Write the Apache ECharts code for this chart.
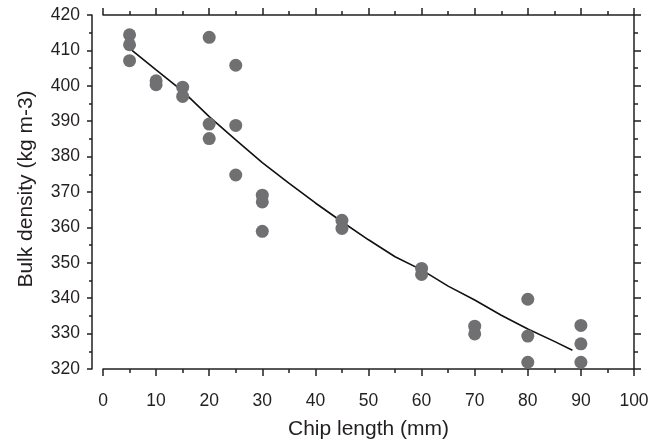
<!DOCTYPE html>
<html>
<head>
<meta charset="utf-8">
<script src="https://cdn.jsdelivr.net/npm/echarts@6/dist/echarts.min.js"></script>
<style>
html,body{margin:0;padding:0;background:#fff;}
#chart{width:649px;height:442px;}
</style>
</head>
<body>
<div id="chart"></div>
<script>
// Observed data
var chipLength = [5,5,5,10,10,15,15,20,20,20,25,25,25,30,30,30,45,45,60,60,70,70,80,80,80,90,90,90];
var bulkDensity = [414.4,411.6,407.1,401.4,400.3,399.6,397.0,413.7,389.2,385.1,405.8,388.8,374.8,369.1,367.2,358.9,362.0,359.7,348.4,346.7,332.1,329.9,339.7,329.3,321.9,332.3,327.1,321.9];
// Fitted curve
var fitX = [5,10,15,20,25,30,35,40,45,50,55,60,65,70,75,80,85,88.4];
var fitY = [410.6,404.5,398.5,391.3,384.7,378.3,372.5,366.9,361.6,356.5,351.7,348.0,343.4,339.5,335.2,331.3,327.8,325.3];
// Axis titles
var xTitle = 'Chip length (mm)';
var yTitle = 'Bulk density (kg m-3)';

var scatterData = chipLength.map(function(x,i){return [x, bulkDensity[i]];});
var fitData = fitX.map(function(x,i){return [x, fitY[i]];});

var axisColor = '#231f20';
var font = 'Liberation Sans, Arial, sans-serif';

function xAx(pos, show){
  return {
    type:'value', position:pos, min:0, max:100, interval:10,
    name: show ? xTitle : '', nameLocation:'middle', nameGap:50,
    nameTextStyle:{fontSize:21, color:axisColor, fontFamily:font},
    axisLine:{show:true, onZero:false, lineStyle:{color:axisColor, width:1.5}},
    axisTick:{show:true, inside:false, length:7, lineStyle:{color:axisColor, width:1.5}},
    minorTick:{show:true, splitNumber:2, length:4, lineStyle:{color:axisColor, width:1.5}},
    axisLabel:{show:show, margin:23, fontSize:17.5, color:axisColor, fontFamily:font},
    splitLine:{show:false}
  };
}
function yAx(pos, show){
  return {
    type:'value', position:pos, min:320, max:420, interval:10,
    offset: show ? 11 : 0,
    name: show ? yTitle : '', nameLocation:'middle', nameGap:55,
    nameTextStyle:{fontSize:21, color:axisColor, fontFamily:font, padding:[0,0,0,6]},
    axisLine:{show:true, onZero:false, lineStyle:{color:axisColor, width:1.5}},
    axisTick:{show:true, inside:false, length: show ? 5 : 7, lineStyle:{color:axisColor, width:1.5}},
    minorTick:{show:true, splitNumber:2, length: show ? 3 : 4, lineStyle:{color:axisColor, width:1.5}},
    axisLabel:{show:show, margin:12, fontSize:17.5, color:axisColor, fontFamily:font},
    splitLine:{show:false}
  };
}

var chart = echarts.init(document.getElementById('chart'), null, {renderer:'canvas'});
chart.setOption({
  animation:false,
  backgroundColor:'#ffffff',
  grid:{left:103, right:15, top:15, bottom:73, containLabel:false, outerBoundsMode:'none'},
  xAxis:[xAx('bottom', true), xAx('top', false)],
  yAxis:[yAx('left', true), yAx('right', false)],
  series:[
    {
      type:'line', data:fitData, xAxisIndex:0, yAxisIndex:0,
      symbol:'none', smooth:false, z:2,
      lineStyle:{color:'#111111', width:1.6}
    },
    {
      type:'scatter', data:scatterData, xAxisIndex:0, yAxisIndex:0,
      symbol:'circle', symbolSize:13, z:3,
      itemStyle:{color:'#707073', opacity:1}
    }
  ]
});
</script>
</body>
</html>
